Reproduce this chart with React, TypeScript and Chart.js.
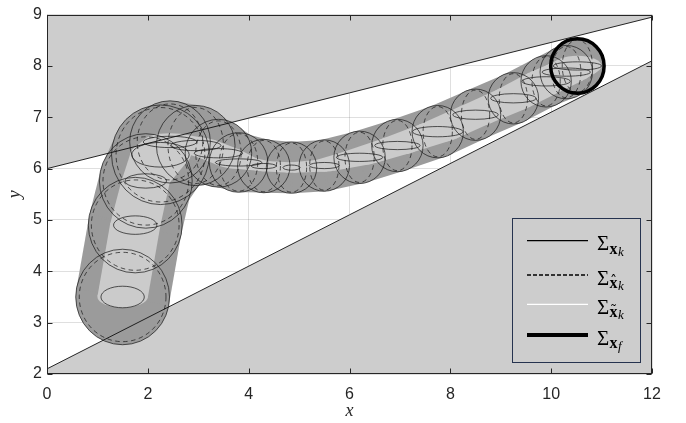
import React, { useEffect, useRef } from 'react';
import { Chart, registerables } from 'chart.js';

Chart.register(...registerables);

// ---- data ----
const upperLine = [{ x: 0, y: 6.0 }, { x: 12, y: 8.95 }];
const lowerLine = [{ x: 0, y: 2.1 }, { x: 12, y: 8.1 }];

const trajX = [1.5, 1.75, 1.96, 2.25, 2.44, 2.95, 3.4, 3.8, 4.3, 4.85, 5.5, 6.2, 6.95, 7.75, 8.5, 9.25, 9.9, 10.3, 10.52];
const trajY = [3.5, 4.9, 5.76, 6.27, 6.52, 6.45, 6.3, 6.12, 6.05, 6.02, 6.06, 6.22, 6.45, 6.72, 7.05, 7.37, 7.7, 7.88, 8.0];
// Sigma_x_k circles (radius)
const sigmaR = [0.93, 0.93, 0.92, 0.97, 0.8, 0.78, 0.66, 0.58, 0.52, 0.5, 0.5, 0.51, 0.51, 0.51, 0.5, 0.5, 0.5, 0.52, 0.53];
// Sigma_xhat_k dashed ellipses
const hatRx = [0.86, 0.87, 0.85, 0.88, 0.65, 0.55, 0.45, 0.38, 0.33, 0.3, 0.29, 0.29, 0.29, 0.29, 0.28, 0.28, 0.28, 0.29, 0.3];
const hatRy = [0.87, 0.88, 0.86, 0.92, 0.74, 0.74, 0.63, 0.56, 0.5, 0.48, 0.48, 0.49, 0.49, 0.49, 0.48, 0.48, 0.48, 0.5, 0.51];
// Sigma_xtilde_k small ellipses
const ellRx = [0.43, 0.43, 0.41, 0.57, 0.53, 0.5, 0.48, 0.46, 0.25, 0.17, 0.3, 0.46, 0.45, 0.5, 0.45, 0.45, 0.48, 0.48, 0.48];
const ellRy = [0.21, 0.18, 0.14, 0.24, 0.11, 0.1, 0.09, 0.07, 0.05, 0.05, 0.06, 0.08, 0.08, 0.1, 0.09, 0.09, 0.09, 0.08, 0.08];
// swept light band
const bandRx = [0.5, 0.5, 0.48, 0.6, 0.53, 0.5, 0.48, 0.46, 0.3, 0.25, 0.35, 0.46, 0.45, 0.5, 0.45, 0.45, 0.48, 0.48, 0.48];
const bandRy = [0.21, 0.2, 0.18, 0.28, 0.17, 0.16, 0.14, 0.12, 0.1, 0.1, 0.12, 0.15, 0.18, 0.2, 0.22, 0.24, 0.24, 0.22, 0.2];

const xTicks = [0, 2, 4, 6, 8, 10, 12];
const yTicks = [2, 3, 4, 5, 6, 7, 8, 9];

const legendRows = [
  { accent: null as string | null, sub: 'k', style: 'solid' },
  { accent: '\u02C6', sub: 'k', style: 'dashed' },
  { accent: '\u02DC', sub: 'k', style: 'white' },
  { accent: null as string | null, sub: 'f', style: 'thick' },
];

const AX = '#262626';

function fillHull(ctx: CanvasRenderingContext2D, C: number[][], RX: number[], RY: number[]) {
  for (let i = 0; i < C.length; i++) {
    ctx.beginPath();
    ctx.ellipse(C[i][0], C[i][1], RX[i], RY[i], 0, 0, Math.PI * 2);
    ctx.fill();
  }
  for (let i = 0; i < C.length - 1; i++) {
    const dx = C[i + 1][0] - C[i][0];
    const dy = C[i + 1][1] - C[i][1];
    const L = Math.hypot(dx, dy) || 1;
    const nx = -dy / L, ny = dx / L;
    const tp = (j: number) => {
      const h = Math.hypot(RX[j] * nx, RY[j] * ny) || 1;
      return [(RX[j] * RX[j] * nx) / h, (RY[j] * RY[j] * ny) / h];
    };
    const a = tp(i), b = tp(i + 1);
    ctx.beginPath();
    ctx.moveTo(C[i][0] + a[0], C[i][1] + a[1]);
    ctx.lineTo(C[i + 1][0] + b[0], C[i + 1][1] + b[1]);
    ctx.lineTo(C[i + 1][0] - b[0], C[i + 1][1] - b[1]);
    ctx.lineTo(C[i][0] - a[0], C[i][1] - a[1]);
    ctx.closePath();
    ctx.fill();
  }
}

const tubePlugin = {
  id: 'covTube',
  afterDatasetDraw(chart: any, args: any) {
    const ds = chart.data.datasets[args.index];
    if (!ds || ds.label !== 'trajectory') return;
    const ctx: CanvasRenderingContext2D = chart.ctx;
    const xs = chart.scales.x, ys = chart.scales.y;
    const a = chart.chartArea;
    const kx = xs.getPixelForValue(1) - xs.getPixelForValue(0);
    const ky = ys.getPixelForValue(0) - ys.getPixelForValue(1);
    const C = trajX.map((x, i) => [xs.getPixelForValue(x), ys.getPixelForValue(trajY[i])]);
    ctx.save();
    ctx.beginPath();
    ctx.rect(a.left, a.top, a.right - a.left, a.bottom - a.top);
    ctx.clip();
    // tube
    ctx.fillStyle = '#9b9b9b';
    fillHull(ctx, C, sigmaR.map((r) => r * kx), sigmaR.map((r) => r * ky));
    // light band
    ctx.fillStyle = '#cbcbcb';
    fillHull(ctx, C, bandRx.map((r) => r * kx), bandRy.map((r) => r * ky));
    for (let i = 0; i < C.length; i++) {
      ctx.beginPath();
      ctx.ellipse(C[i][0], C[i][1], ellRx[i] * kx, ellRy[i] * ky, 0, 0, Math.PI * 2);
      ctx.fill();
    }
    // outlines
    ctx.strokeStyle = 'rgba(25,25,25,0.8)';
    ctx.lineWidth = 0.9;
    for (let i = 0; i < C.length; i++) {
      ctx.setLineDash([]);
      ctx.beginPath();
      ctx.ellipse(C[i][0], C[i][1], sigmaR[i] * kx, sigmaR[i] * ky, 0, 0, Math.PI * 2);
      ctx.stroke();
      ctx.beginPath();
      ctx.ellipse(C[i][0], C[i][1], ellRx[i] * kx, ellRy[i] * ky, 0, 0, Math.PI * 2);
      ctx.stroke();
      ctx.setLineDash([4.5, 3.5]);
      ctx.beginPath();
      ctx.ellipse(C[i][0], C[i][1], hatRx[i] * kx, hatRy[i] * ky, 0, 0, Math.PI * 2);
      ctx.stroke();
    }
    ctx.setLineDash([]);
    // final covariance
    const n = C.length - 1;
    ctx.strokeStyle = '#000';
    ctx.lineWidth = 3.5;
    ctx.beginPath();
    ctx.ellipse(C[n][0], C[n][1], sigmaR[n] * kx, sigmaR[n] * ky, 0, 0, Math.PI * 2);
    ctx.stroke();
    ctx.restore();
  },
};

function drawSigma(ctx: CanvasRenderingContext2D, x: number, lineY: number, accent: string | null, sub: string) {
  ctx.fillStyle = '#000';
  ctx.textAlign = 'left';
  ctx.textBaseline = 'alphabetic';
  ctx.font = '21px "Liberation Serif"';
  ctx.fillText('\u03A3', x, lineY + 9.5);
  const w = ctx.measureText('\u03A3').width;
  const xx = x + w + 0.3;
  const by = lineY + 12.8;
  ctx.font = 'bold 16px "Liberation Serif"';
  ctx.fillText('x', xx, by);
  const wx = ctx.measureText('x').width;
  if (accent) {
    ctx.font = '14px "DejaVu Serif"';
    ctx.textAlign = 'center';
    ctx.fillText(accent, xx + wx / 2, by - 1.5);
    ctx.textAlign = 'left';
  }
  ctx.font = 'italic 13px "Liberation Serif"';
  ctx.fillText(sub, xx + wx + 0.5, by + 2);
}

const framePlugin = {
  id: 'frame',
  afterDraw(chart: any) {
    const ctx: CanvasRenderingContext2D = chart.ctx;
    const a = chart.chartArea;
    const xs = chart.scales.x, ys = chart.scales.y;
    ctx.save();
    ctx.strokeStyle = AX;
    ctx.lineWidth = 1;
    const L = Math.round(a.left) + 0.5, R = Math.round(a.right) - 0.5;
    const T = Math.round(a.top) + 0.5, B = Math.round(a.bottom) - 0.5;
    ctx.strokeRect(L, T, R - L, B - T);
    ctx.beginPath();
    xs.ticks.forEach((t: any, i: number) => {
      const p = Math.round(xs.getPixelForTick(i)) + 0.5;
      ctx.moveTo(p, B); ctx.lineTo(p, B - 5);
      ctx.moveTo(p, T); ctx.lineTo(p, T + 5);
    });
    ys.ticks.forEach((t: any, i: number) => {
      const p = Math.round(ys.getPixelForTick(i)) + 0.5;
      ctx.moveTo(L, p); ctx.lineTo(L + 5, p);
      ctx.moveTo(R, p); ctx.lineTo(R - 5, p);
    });
    ctx.stroke();

    // legend
    const lx = 512.5, ly = 218.5, lw = 128, lh = 144;
    ctx.strokeStyle = '#26334f';
    ctx.lineWidth = 1;
    ctx.strokeRect(lx, ly, lw, lh);
    const rowY = [240.7, 275, 304.3, 335];
    legendRows.forEach((row, i) => {
      const y = rowY[i];
      ctx.beginPath();
      ctx.setLineDash(row.style === 'dashed' ? [4, 2] : []);
      ctx.strokeStyle = row.style === 'white' ? '#ffffff' : '#000000';
      ctx.lineWidth = row.style === 'thick' ? 4 : 1.3;
      ctx.moveTo(527, y);
      ctx.lineTo(588, y);
      ctx.stroke();
      ctx.setLineDash([]);
      drawSigma(ctx, 597, y, row.accent, row.sub);
    });
    ctx.restore();
  },
};

export default function App() {
  const ref = useRef<HTMLCanvasElement | null>(null);
  useEffect(() => {
    if (!ref.current) return;
    const chart = new Chart(ref.current, {
      type: 'scatter',
      data: {
        datasets: [
          { label: 'upper constraint', data: upperLine, showLine: true, borderColor: '#111', borderWidth: 0.9, pointRadius: 0, fill: false, order: 1 },
          { label: 'lower constraint', data: lowerLine, showLine: true, borderColor: '#111', borderWidth: 0.9, pointRadius: 0, fill: false, order: 1 },
          { label: 'trajectory', data: trajX.map((x, i) => ({ x, y: trajY[i] })), showLine: false, pointRadius: 0, order: 3 },
          { label: 'upper region', data: upperLine, showLine: true, borderWidth: 0, pointRadius: 0, fill: 'end', backgroundColor: '#cdcdcd', order: 5 },
          { label: 'lower region', data: lowerLine, showLine: true, borderWidth: 0, pointRadius: 0, fill: 'start', backgroundColor: '#cdcdcd', order: 5 },
        ],
      } as any,
      options: {
        animation: false,
        responsive: false,
        maintainAspectRatio: false,
        events: [],
        layout: { padding: { left: 0, top: 8, right: 34, bottom: 0 } },
        plugins: { legend: { display: false }, tooltip: { enabled: false } },
        scales: {
          x: {
            type: 'linear',
            min: 0,
            max: 12,
            z: 1,
            afterBuildTicks: (s: any) => { s.ticks = xTicks.map((v) => ({ value: v })); },
            afterFit: (s: any) => { s.height = 49; },
            grid: { color: 'rgba(38,38,38,0.15)', lineWidth: 1, drawTicks: false },
            border: { display: false },
            ticks: { color: AX, padding: 11, maxRotation: 0, font: { family: '"Liberation Sans", Arial, sans-serif', size: 16 } },
            title: { display: true, text: 'x', color: AX, padding: { top: 0, bottom: 1 }, font: { family: '"Liberation Serif", serif', size: 18, style: 'italic' } },
          },
          y: {
            type: 'linear',
            min: 2,
            max: 9,
            z: 1,
            afterBuildTicks: (s: any) => { s.ticks = yTicks.map((v) => ({ value: v })); },
            afterFit: (s: any) => { s.width = 47; },
            grid: { color: 'rgba(38,38,38,0.15)', lineWidth: 1, drawTicks: false },
            border: { display: false },
            ticks: { color: AX, padding: 5, font: { family: '"Liberation Sans", Arial, sans-serif', size: 16 } },
            title: { display: true, text: 'y', color: AX, padding: { top: 4, bottom: 0 }, font: { family: '"Liberation Serif", serif', size: 18, style: 'italic' } },
          },
        },
      } as any,
      plugins: [tubePlugin, framePlugin],
    });
    return () => chart.destroy();
  }, []);
  return (
    <div style={{ position: 'absolute', left: 0, top: 0, width: 686, height: 423, background: '#fff' }}>
      <canvas ref={ref} width={686} height={423} style={{ width: 686, height: 423, display: 'block' }} />
    </div>
  );
}
